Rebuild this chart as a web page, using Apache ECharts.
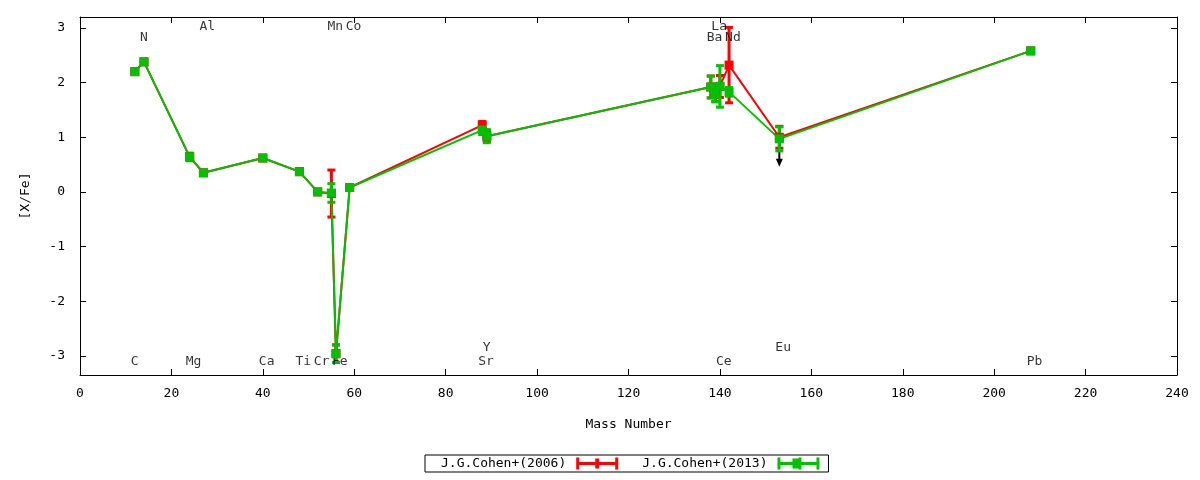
<!DOCTYPE html>
<html>
<head>
<meta charset="utf-8">
<script src="https://cdn.jsdelivr.net/npm/echarts@6/dist/echarts.min.js"></script>
<style>
  html, body { margin: 0; padding: 0; background: #fff; }
  #chart { width: 1200px; height: 480px; }
</style>
</head>
<body>
<div id="chart"></div>
<script>
const elements = ["C", "N", "Mg", "Al", "Ca", "Ti", "Cr", "Mn", "Fe", "Co", "Sr", "Y", "Ba", "La", "Ce", "Nd", "Eu", "Pb"]
const massNumbers = [12, 14, 24, 27, 40, 48, 52, 55, 56, 59, 88, 89, 138, 139, 140, 142, 153, 208]

const cohen2006 = [2.2, 2.38, 0.64, 0.35, 0.62, 0.37, 0.0, -0.03, -2.96, 0.08, 1.22, 1.02, 1.92, 1.8, 1.93, 2.32, 1.0, 2.58]
const cohen2006Err = [0.03, 0.03, 0.04, 0.03, 0.03, 0.05, 0.03, 0.43, 0.16, 0.03, 0.07, 0.1, 0.2, 0.15, 0.2, 0.69, 0.2, 0.03]

const cohen2013 = [2.2, 2.38, 0.64, 0.35, 0.62, 0.37, 0.0, -0.02, -2.96, 0.08, 1.13, 1.02, 1.92, 1.8, 1.93, 1.83, 0.97, 2.58]
const cohen2013Err = [0.03, 0.03, 0.07, 0.03, 0.03, 0.05, 0.03, 0.17, 0.16, 0.03, 0.08, 0.12, 0.2, 0.15, 0.38, 0.08, 0.22, 0.03]

// Eu is an upper limit in the 2006 set
const upperLimits = [{ mass: 153, from: 0.97, to: 0.46 }]

// label row for each element: b1/b2 bottom rows, t1/t2 top rows
const labelRows = ["b1", "t2", "b1", "t1", "b1", "b1", "b1", "t1", "b1", "t1", "b1", "b2", "t2", "t1", "b1", "t2", "b2", "b1"]

const yTicks = [-3, -2, -1, 0, 1, 2, 3]

const FONT = "DejaVu Sans Mono"
const RED = "#ff0000"
const GREEN = "#00c000"

const rowLevel = { b1: -3.11, b2: -2.85, t1: 3.02, t2: 2.83 }

const linePoints = (values) => massNumbers.map((m, i) => [m, values[i]])
const errPoints = (values, errs) => massNumbers.map((m, i) => [m, values[i] - errs[i], values[i] + errs[i]])

function errorBars(color) {
  return (params, api) => {
    const x = api.value(0)
    const lo = api.coord([x, api.value(1)])
    const hi = api.coord([x, api.value(2)])
    const w = 4
    const style = { stroke: color, lineWidth: 3 }
    return {
      type: "group",
      children: [
        { type: "line", shape: { x1: lo[0], y1: lo[1], x2: hi[0], y2: hi[1] }, style },
        { type: "line", shape: { x1: lo[0] - w, y1: lo[1], x2: lo[0] + w, y2: lo[1] }, style },
        { type: "line", shape: { x1: hi[0] - w, y1: hi[1], x2: hi[0] + w, y2: hi[1] }, style }
      ]
    }
  }
}

function arrowItem(params, api) {
  const x = api.value(0)
  const a = api.coord([x, api.value(1)])
  const b = api.coord([x, api.value(2)])
  return {
    type: "group",
    children: [
      { type: "line", shape: { x1: a[0], y1: a[1], x2: b[0], y2: b[1] - 6 }, style: { stroke: "#000", lineWidth: 2 } },
      { type: "polygon", shape: { points: [[b[0] - 3.5, b[1] - 8], [b[0] + 3.5, b[1] - 8], [b[0], b[1]]] }, style: { fill: "#000" } }
    ]
  }
}

const chart = echarts.init(document.getElementById("chart"))

const axisText = { color: "#000", fontFamily: FONT, fontSize: 13 }
const frameLine = { show: true, onZero: false, lineStyle: { color: "#000", width: 1 } }

chart.setOption({
  animation: false,
  textStyle: { fontFamily: FONT },
  grid: { left: 80, right: 23, top: 17, bottom: 105 },
  legend: {
    left: 425,
    top: 455,
    align: "right",
    orient: "horizontal",
    borderColor: "#000",
    borderWidth: 1,
    borderRadius: 0,
    padding: [2, 9, 2, 16],
    itemGap: 24,
    itemWidth: 42,
    itemHeight: 12,
    textStyle: { color: "#000", fontFamily: FONT, fontSize: 13, padding: [0, 5, 0, 0] },
    selectedMode: false,
    data: [
      { name: "J.G.Cohen+(2006)", icon: "path://M0,0h3v12h-3z M0,4.5h42v3h-42z M39,0h3v12h-3z M19,1h4v10h-4z" },
      { name: "J.G.Cohen+(2013)", icon: "path://M0,0h3v12h-3z M0,4.5h42v3h-42z M39,0h3v12h-3z M15,1h8v10h-8z M21,0h3v12h-3z" }
    ]
  },
  xAxis: [
    {
      type: "value",
      min: 0,
      max: 240,
      interval: 20,
      name: "Mass Number",
      nameLocation: "middle",
      nameGap: 43,
      nameTextStyle: axisText,
      axisLine: frameLine,
      axisTick: { inside: true, length: 6, lineStyle: { color: "#000" } },
      axisLabel: { ...axisText, margin: 12 },
      splitLine: { show: false }
    },
    {
      type: "value",
      position: "top",
      min: 0,
      max: 240,
      interval: 20,
      axisLine: frameLine,
      axisTick: { inside: true, length: 6, lineStyle: { color: "#000" } },
      axisLabel: { show: false },
      splitLine: { show: false }
    }
  ],
  yAxis: [
    {
      type: "value",
      min: -3.35,
      max: 3.2,
      name: "[X/Fe]",
      nameLocation: "middle",
      nameGap: 48,
      nameTextStyle: axisText,
      axisLine: frameLine,
      axisTick: { inside: true, length: 6, lineStyle: { color: "#000" }, customValues: yTicks },
      axisLabel: { ...axisText, margin: 15, customValues: yTicks },
      splitLine: { show: false }
    },
    {
      type: "value",
      position: "right",
      min: -3.35,
      max: 3.2,
      axisLine: frameLine,
      axisTick: { inside: true, length: 6, lineStyle: { color: "#000" }, customValues: yTicks },
      axisLabel: { show: false, customValues: yTicks },
      splitLine: { show: false }
    }
  ],
  series: [
    {
      name: "J.G.Cohen+(2006)",
      type: "line",
      data: linePoints(cohen2006),
      symbol: "rect",
      symbolSize: 9,
      itemStyle: { color: RED },
      lineStyle: { color: RED, width: 2 }
    },
    {
      name: "J.G.Cohen+(2006)",
      type: "custom",
      renderItem: errorBars(RED),
      encode: { x: 0, y: [1, 2] },
      itemStyle: { color: RED },
      data: errPoints(cohen2006, cohen2006Err)
    },
    {
      name: "upper limit",
      type: "custom",
      renderItem: arrowItem,
      encode: { x: 0, y: [1, 2] },
      data: upperLimits.map((u) => [u.mass, u.from, u.to])
    },
    {
      name: "J.G.Cohen+(2013)",
      type: "line",
      data: linePoints(cohen2013),
      symbol: "rect",
      symbolSize: 9,
      itemStyle: { color: GREEN },
      lineStyle: { color: GREEN, width: 2 }
    },
    {
      name: "J.G.Cohen+(2013)",
      type: "custom",
      renderItem: errorBars(GREEN),
      encode: { x: 0, y: [1, 2] },
      itemStyle: { color: GREEN },
      data: errPoints(cohen2013, cohen2013Err)
    },
    {
      name: "elements",
      type: "scatter",
      symbolSize: 0,
      silent: true,
      data: elements.map((el, i) => ({ name: el, value: [massNumbers[i], rowLevel[labelRows[i]]] })),
      label: {
        show: true,
        position: [-4, 0],
        align: "left",
        verticalAlign: "middle",
        formatter: (p) => p.name,
        color: "#000",
        fontFamily: FONT,
        fontSize: 13
      }
    }
  ]
})
</script>
</body>
</html>
